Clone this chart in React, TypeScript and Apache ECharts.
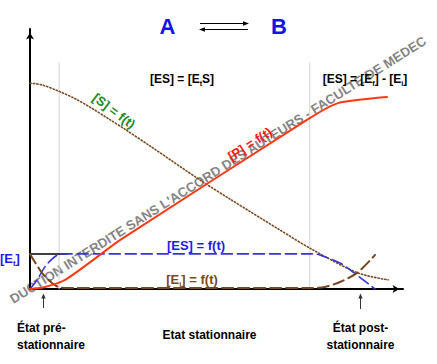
import React, { useEffect, useRef } from "react";
import * as echarts from "echarts";

// [S] = f(t) (substrate, dotted)
const sTime = [0, 3.2, 7.5, 12.1, 16.6, 20.9, 25.5, 32.7, 45.6, 53.6, 67, 75.9, 87.9, 96];
const sConc = [79.2, 78.5, 76.2, 73.2, 69.5, 65.6, 61.4, 54.5, 41.9, 34.6, 22.7, 15, 6.2, 3.5];

// [P] = f(t) (product, red)
const pTime = [0, 4, 9.4, 16.6, 24.1, 75.1, 82.6, 95.7];
const pConc = [0, 0.8, 3.5, 10.8, 18.8, 65.8, 71.5, 73.8];

// [ES] = f(t) (complex, blue dashed)
const esTime = [0, 1.9, 4, 5.9, 7.5, 9.7, 75.9, 77.7, 83.1, 86.6, 92.5];
const esConc = [0, 3.5, 8.5, 11.5, 13.1, 13.5, 13.5, 13.1, 10, 6.5, 0];

// [Ei] = f(t) (free enzyme, brown dashed)
const eiTime = [0, 3.2, 5.9, 8, 10.2, 75, 79, 83.1, 87.7, 92.5];
const eiConc = [13.5, 6.2, 2.3, 0.6, 0.4, 0.4, 0.8, 2.7, 6.2, 13.1];

// total enzyme level [Et] and phase boundaries
const etLevel = 13.5;
const etLineEnd = 10;
const phaseBounds = [7.8, 75];
const phaseTop = 86.9;

const pairs = (a: number[], b: number[]) => a.map((v, i) => [v, b[i]]);

const FONT = "'Liberation Sans', Arial, Helvetica, sans-serif";

export default function App() {
  const ref = useRef<HTMLDivElement>(null);
  useEffect(() => {
    const chart = echarts.init(ref.current!, null, { renderer: "svg" });
    const bold = (size: number) => `bold ${size}px ${FONT}`;
    const txt = (
      x: number,
      y: number,
      text: string,
      fill: string,
      size: number,
      align = "center",
      rotation = 0
    ) => ({
      type: "text",
      x,
      y,
      rotation,
      z: 100,
      silent: true,
      style: {
        text,
        fill,
        font: bold(size),
        textAlign: align,
        textVerticalAlign: "middle",
      },
    });
    const rich = (fill: string, size: number) => ({
      a: { fill, fontSize: size, fontWeight: "bold", fontFamily: FONT, lineHeight: 14, verticalAlign: "bottom" },
      b: { fill, fontSize: size * 0.6, fontWeight: "bold", fontFamily: FONT, lineHeight: 10, verticalAlign: "bottom", padding: [0, 0, -2, 0] },
    });
    const richTxt = (x: number, y: number, text: string, fill: string, size: number, align = "center") => ({
      type: "text",
      x,
      y,
      z: 100,
      silent: true,
      style: { text, rich: rich(fill, size), textAlign: align, textVerticalAlign: "middle" },
    });

    const lineSeries = (data: number[][], color: string, width: number, type: any, z = 2, smooth: any = 0.3) => ({
      type: "line",
      data,
      smooth,
      symbol: "none",
      silent: true,
      z,
      lineStyle: { color, width, type, cap: "round" },
    });

    chart.setOption({
      animation: false,
      backgroundColor: "#ffffff",
      grid: { left: 30, right: 34, top: 29, bottom: 75 },
      xAxis: {
        type: "value",
        min: 0,
        max: 100,
        axisLine: {
          show: true,
          onZero: false,
          symbol: ["none", "arrow"],
          symbolSize: [6, 7],
          symbolOffset: [0, -3.5],
          lineStyle: { color: "#000", width: 2 },
        },
        axisTick: { show: false },
        axisLabel: { show: false },
        splitLine: { show: false },
      },
      yAxis: {
        type: "value",
        min: 0,
        max: 100,
        axisLine: {
          show: true,
          onZero: false,
          symbol: ["none", "arrow"],
          symbolSize: [6, 7],
          symbolOffset: [0, -3.5],
          lineStyle: { color: "#000", width: 2 },
        },
        axisTick: { show: false },
        axisLabel: { show: false },
        splitLine: { show: false },
      },
      series: [
        ...phaseBounds.map((b) =>
          lineSeries([[b, 0], [b, phaseTop]], "#d2d2d2", 1, "solid", 1, false)
        ),
        lineSeries([[0, etLevel], [etLineEnd, etLevel]], "#000000", 1.5, "solid", 2, false),
        lineSeries(pairs(sTime, sConc), "#7a4a22", 1.6, [1.3, 2.1], 3, 0.3),
        lineSeries(pairs(esTime, esConc), "#3636d6", 1.6, [11, 5], 4, 0.3),
        lineSeries(pairs(eiTime, eiConc), "#74461c", 2, [11, 5], 4, 0.3),
        lineSeries(pairs(pTime, pConc), "#ff3a12", 2, "solid", 5, 0.2),
      ],
      graphic: [
        // watermark (visible part)
        {
          type: "text",
          x: 218,
          y: 170,
          rotation: (32.2 * Math.PI) / 180,
          z: 0,
          silent: true,
          style: {
            text: "DUCTION INTERDITE SANS L'ACCORD DES AUTEURS - FACULTE DE MEDEC",
            fill: "#858585",
            font: bold(13.2),
            textAlign: "center",
            textVerticalAlign: "middle",
          },
        },
        // A <=> B
        txt(167.5, 26, "A", "#1414e6", 22),
        txt(279, 26, "B", "#1414e6", 22),
        { type: "line", z: 100, shape: { x1: 200, y1: 23.5, x2: 246, y2: 23.5 }, style: { stroke: "#000", lineWidth: 1.2 } },
        { type: "polygon", z: 100, shape: { points: [[249, 23.5], [243, 21.3], [243, 25.7]] }, style: { fill: "#000" } },
        { type: "line", z: 100, shape: { x1: 202, y1: 29.5, x2: 248, y2: 29.5 }, style: { stroke: "#000", lineWidth: 1.2 } },
        { type: "polygon", z: 100, shape: { points: [[199, 29.5], [205, 27.3], [205, 31.7]] }, style: { fill: "#000" } },
        // phase equations
        richTxt(182, 78, "{a|[ES] = [E}{b|t}{a|S]}", "#000000", 12),
        richTxt(365, 78, "{a|[ES] = [E}{b|f}{a|] - [E}{b|i}{a|]}", "#000000", 12),
        // curve labels
        txt(114, 111, "[S] = f(t)", "#1f8a1f", 13, "center", (-37 * Math.PI) / 180),
        txt(250, 144, "[P] = f(t)", "#ff1a1a", 13, "center", (33 * Math.PI) / 180),
        txt(196, 245, "[ES] = f(t)", "#2020e0", 13),
        richTxt(192, 279, "{a|[E}{b|i}{a|] = f(t)}", "#7b4a14", 13),
        richTxt(0, 258, "{a|[E}{b|t}{a|]}", "#2020e0", 13, "left"),
        // phase arrows below the axis
        { type: "line", z: 100, shape: { x1: 43.5, y1: 297, x2: 43.5, y2: 308 }, style: { stroke: "#333", lineWidth: 1 } },
        { type: "polygon", z: 100, shape: { points: [[43.5, 293.5], [41.3, 298.5], [45.7, 298.5]] }, style: { fill: "#333" } },
        { type: "line", z: 100, shape: { x1: 360.5, y1: 297, x2: 360.5, y2: 309 }, style: { stroke: "#333", lineWidth: 1 } },
        { type: "polygon", z: 100, shape: { points: [[360.5, 293.5], [358.3, 298.5], [362.7, 298.5]] }, style: { fill: "#333" } },
        // phase names
        txt(17, 328, "État pré-", "#000", 12, "left"),
        txt(17, 345, "stationnaire", "#000", 12, "left"),
        txt(209.5, 335, "Etat stationnaire", "#000", 12),
        txt(360.5, 328, "État post-", "#000", 12),
        txt(360.5, 345, "stationnaire", "#000", 12),
      ],
    });
    return () => chart.dispose();
  }, []);
  return (
    <div
      ref={ref}
      style={{ position: "absolute", left: 0, top: 0, width: 437, height: 364 }}
    />
  );
}
